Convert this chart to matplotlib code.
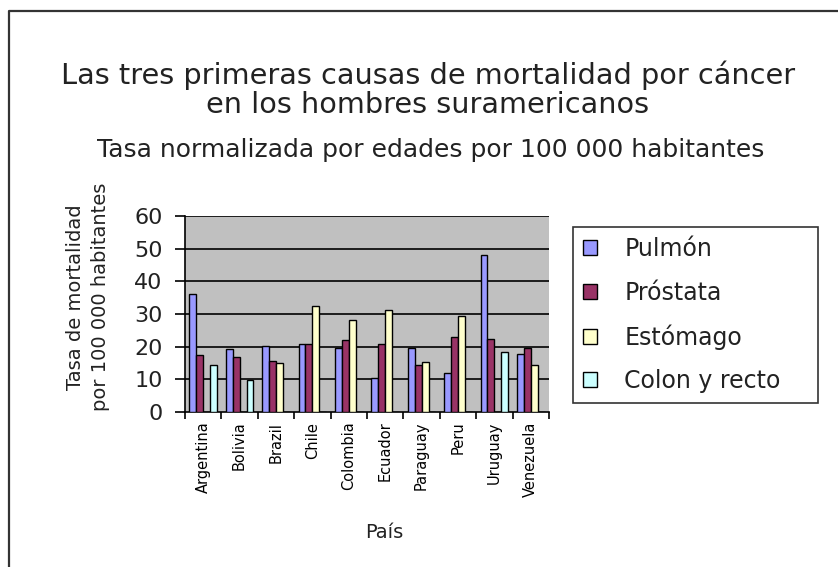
import matplotlib
matplotlib.use("Agg")
import matplotlib.pyplot as plt
import numpy as np
from matplotlib.lines import Line2D

countries = ["Argentina", "Bolivia", "Brazil", "Chile", "Colombia",
             "Ecuador", "Paraguay", "Peru", "Uruguay", "Venezuela"]
pulmon = [36.0, 19.3, 20.3, 20.8, 19.6, 10.5, 19.6, 11.8, 48.0, 17.9]
prostata = [17.4, 16.9, 15.7, 20.8, 21.9, 20.8, 14.5, 23.1, 22.5, 19.6]
estomago = [0, 0, 15.1, 32.5, 28.1, 31.2, 15.2, 29.4, 0, 14.5]
colon = [14.5, 9.9, 0, 0, 0, 0, 0, 0, 18.4, 0]
series_names = ["Pulmón", "Próstata", "Estómago", "Colon y recto"]
colors = ["#9999FF", "#993366", "#FFFFCC", "#CCFFFF"]
yticks = [0, 10, 20, 30, 40, 50, 60]

W, H = 838, 567
fig = plt.figure(figsize=(W / 100, H / 100), dpi=100)
fig.patch.set_facecolor("white")

# outer border (top and left visible)
fig.add_artist(Line2D([9 / W, 9 / W, 1.0], [0.0, 1 - 11 / H, 1 - 11 / H],
                      transform=fig.transFigure, color="#333333", lw=1.6))

left, right, top, bottom = 185, 549, 216, 412
ax = fig.add_axes([left / W, 1 - bottom / H, (right - left) / W, (bottom - top) / H])
ax.set_facecolor("#C0C0C0")

x = np.arange(len(countries))
w = 0.19
all_series = [pulmon, prostata, estomago, colon]
handles = []
for k, (vals, c, name) in enumerate(zip(all_series, colors, series_names)):
    pos = x + 0.5 + (k - 1.5) * w
    b = ax.bar(pos, vals, width=w, color=c, edgecolor="black", linewidth=1.0,
               label=name, zorder=3)
    handles.append(b)

ax.set_xlim(0, len(countries))
ax.set_ylim(0, 60)
ax.set_yticks(yticks)
ax.set_yticklabels([str(v) for v in yticks], fontsize=16, color="#222222")
for v in yticks[1:]:
    ax.axhline(v, color="black", lw=1.2, zorder=1)

ax.set_xticks(np.arange(len(countries) + 1))
ax.set_xticklabels([])
ax.set_xticks(x + 0.5, minor=True)
ax.set_xticklabels(countries, minor=True, rotation=90, fontsize=10.5)
ax.tick_params(axis="x", which="minor", length=0, pad=7)
ax.tick_params(axis="x", which="major", length=5, width=1.2, direction="out")
ax.tick_params(axis="y", length=7, width=1.2, direction="out", pad=9)

for s in ["top", "right"]:
    ax.spines[s].set_visible(False)
for s in ["left", "bottom"]:
    ax.spines[s].set_linewidth(1.2)
    ax.spines[s].set_color("black")

fig.text(428 / W, 1 - 75 / H, "Las tres primeras causas de mortalidad por cáncer",
         ha="center", va="center", fontsize=20.7, color="#222222")
fig.text(428 / W, 1 - 105 / H, "en los hombres suramericanos",
         ha="center", va="center", fontsize=20.7, color="#222222")
fig.text(431 / W, 1 - 150 / H, "Tasa normalizada por edades por 100 000 habitantes",
         ha="center", va="center", fontsize=18, color="#222222")

fig.text(75 / W, 1 - 297 / H, "Tasa de mortalidad", rotation=90,
         ha="center", va="center", fontsize=14, color="#222222")
fig.text(101 / W, 1 - 297 / H, "por 100 000 habitantes", rotation=90,
         ha="center", va="center", fontsize=14, color="#222222")

fig.text(384 / W, 1 - 533 / H, "País", ha="center", va="center",
         fontsize=14, color="#222222")

leg = fig.legend(handles=handles, labels=series_names,
                 loc="upper left",
                 bbox_to_anchor=(573 / W, 1 - 402 / H, 245 / W, 175 / H),
                 bbox_transform=fig.transFigure, mode="expand",
                 fontsize=17, frameon=True, fancybox=False,
                 edgecolor="black", handlelength=0.6, handleheight=0.6,
                 handletextpad=1.15, labelspacing=0.83, borderpad=0.42,
                 borderaxespad=0)
leg.get_frame().set_linewidth(1.2)
for t in leg.get_texts():
    t.set_color("#222222")

fig.savefig("out.png", dpi=100, facecolor="white")
